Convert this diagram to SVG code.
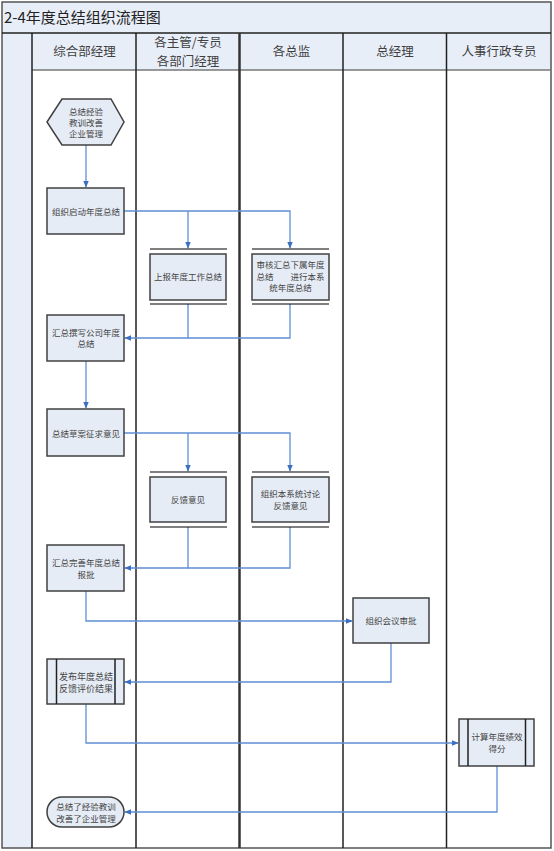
<svg xmlns="http://www.w3.org/2000/svg" width="554" height="851" viewBox="0 0 554 851">
<style>
.bg{fill:#e8eef8}
.ln{stroke:#202020;stroke-width:1.5;fill:none}
.hd{font-family:"Noto Sans CJK SC","Liberation Sans",sans-serif;font-size:12.5px;font-weight:400;fill:#404040;text-anchor:middle}
.nd{fill:#e6ecf6;stroke:#404040;stroke-width:1.5}
.tx{font-family:"Noto Sans CJK SC","Liberation Sans",sans-serif;font-size:8.5px;fill:#444;text-anchor:middle;dominant-baseline:central}
.bar{stroke:#000;stroke-width:1.2}
.cn{stroke:#5f8fd4;stroke-width:1.3;fill:none}
</style>
<defs>
<marker id="ah" viewBox="0 0 10 10" refX="9" refY="5" markerWidth="7" markerHeight="7" markerUnits="userSpaceOnUse" orient="auto">
<path d="M0,1 L10,5 L0,9 z" fill="#3d6fc0"/>
</marker>
</defs>
<g id="frame">
<rect x="2" y="2" width="549" height="846" fill="#fff"/>
<rect class="bg" x="2" y="2" width="549" height="31"/>
<rect class="bg" x="2" y="33" width="549" height="37"/>
<rect class="bg" x="2" y="33" width="30" height="815"/>
<text x="4" y="23" font-family="Noto Sans CJK SC,Liberation Sans,sans-serif" font-size="15" fill="#222">2-4年度总结组织流程图</text>
<rect x="2" y="2" width="549" height="846" fill="none" stroke="#555" stroke-width="1.5"/>
<line class="ln" x1="2" y1="33" x2="551" y2="33"/>
<line x1="32" y1="70" x2="551" y2="70" stroke="#777" stroke-width="1.5"/>
<line class="ln" x1="32" y1="33" x2="32" y2="848"/>
<line class="ln" x1="136" y1="33" x2="136" y2="848"/>
<line x1="239.5" y1="33" x2="239.5" y2="848" stroke="#333" stroke-width="2.5"/>
<line class="ln" x1="343" y1="33" x2="343" y2="848"/>
<line class="ln" x1="446.5" y1="33" x2="446.5" y2="848"/>
<text class="hd" x="84.5" y="56">综合部经理</text>
<text class="hd" x="188" y="47">各主管/专员</text>
<text class="hd" x="188" y="66">各部门经理</text>
<text class="hd" x="291.5" y="56">各总监</text>
<text class="hd" x="395" y="56">总经理</text>
<text class="hd" x="499" y="56">人事行政专员</text>
</g>
<g id="connectors">
<path class="cn" d="M86,145 V187" marker-end="url(#ah)"/>
<path class="cn" d="M124,211 H290 V248" marker-end="url(#ah)"/>
<path class="cn" d="M188,211 V248" marker-end="url(#ah)"/>
<path class="cn" d="M188,304 V338 H125" marker-end="url(#ah)"/>
<path class="cn" d="M290,304 V338 H188"/>
<path class="cn" d="M86,361 V408" marker-end="url(#ah)"/>
<path class="cn" d="M124,433 H290 V471" marker-end="url(#ah)"/>
<path class="cn" d="M188,433 V471" marker-end="url(#ah)"/>
<path class="cn" d="M188,527 V568 H125" marker-end="url(#ah)"/>
<path class="cn" d="M290,527 V568 H188"/>
<path class="cn" d="M86,591 V621 H352" marker-end="url(#ah)"/>
<path class="cn" d="M391,643 V682 H125" marker-end="url(#ah)"/>
<path class="cn" d="M86,704 V743 H458" marker-end="url(#ah)"/>
<path class="cn" d="M497,766 V812 H125" marker-end="url(#ah)"/>
</g>
<g id="n1">
<polygon class="nd" points="47,122 62,99 111,99 124,122 111,145 62,145"/>
<text class="tx" x="86" y="111">总结经验</text>
<text class="tx" x="86" y="122">教训改善</text>
<text class="tx" x="86" y="133">企业管理</text>
</g>
<g id="n2">
<rect class="nd" x="47" y="188" width="77" height="46"/>
<text class="tx" x="86" y="211">组织启动年度总结</text>
</g>
<g id="n3">
<line class="bar" x1="150" y1="249" x2="227" y2="249"/>
<line class="bar" x1="150" y1="304" x2="227" y2="304"/>
<rect class="nd" x="150" y="254" width="76" height="46"/>
<text class="tx" x="188" y="276">上报年度工作总结</text>
</g>
<g id="n4">
<line class="bar" x1="252" y1="249" x2="329" y2="249"/>
<line class="bar" x1="252" y1="304" x2="329" y2="304"/>
<rect class="nd" x="252" y="254" width="77" height="46"/>
<text class="tx" x="290.5" y="264">审核汇总下属年度</text>
<text class="tx" x="290.5" y="276" xml:space="preserve">总结　　进行本系</text>
<text class="tx" x="290.5" y="287">统年度总结</text>
</g>
<g id="n5">
<rect class="nd" x="47" y="315" width="77" height="46"/>
<text class="tx" x="86" y="332">汇总撰写公司年度</text>
<text class="tx" x="86" y="343">总结</text>
</g>
<g id="n6">
<rect class="nd" x="47" y="409" width="77" height="47"/>
<text class="tx" x="86" y="433">总结草案征求意见</text>
</g>
<g id="n7">
<line class="bar" x1="150" y1="472" x2="227" y2="472"/>
<line class="bar" x1="150" y1="527" x2="227" y2="527"/>
<rect class="nd" x="150" y="477" width="76" height="45"/>
<text class="tx" x="188" y="499">反馈意见</text>
</g>
<g id="n8">
<line class="bar" x1="252" y1="472" x2="329" y2="472"/>
<line class="bar" x1="252" y1="527" x2="329" y2="527"/>
<rect class="nd" x="252" y="477" width="77" height="45"/>
<text class="tx" x="290.5" y="493">组织本系统讨论</text>
<text class="tx" x="290.5" y="505">反馈意见</text>
</g>
<g id="n9">
<rect class="nd" x="47" y="545" width="77" height="46"/>
<text class="tx" x="86" y="562">汇总完善年度总结</text>
<text class="tx" x="86" y="574">报批</text>
</g>
<g id="n10">
<rect class="nd" x="353" y="598" width="76" height="45"/>
<text class="tx" x="391" y="620">组织会议审批</text>
</g>
<g id="n11">
<rect class="nd" x="47" y="659" width="77" height="45"/>
<line class="ln" x1="56.5" y1="659" x2="56.5" y2="704"/>
<line class="ln" x1="115" y1="659" x2="115" y2="704"/>
<text class="tx" x="86" y="676" style="font-size:9px">发布年度总结</text>
<text class="tx" x="86" y="688" style="font-size:9px">反馈评价结果</text>
</g>
<g id="n12">
<rect class="nd" x="459" y="719" width="75" height="47"/>
<line class="ln" x1="468" y1="719" x2="468" y2="766"/>
<line class="ln" x1="525.5" y1="719" x2="525.5" y2="766"/>
<text class="tx" x="497" y="736">计算年度绩效</text>
<text class="tx" x="497" y="748">得分</text>
</g>
<g id="n13">
<rect class="nd" x="47" y="797" width="77" height="30" rx="15" ry="15"/>
<text class="tx" x="86" y="805.5">总结了经验教训</text>
<text class="tx" x="86" y="818">改善了企业管理</text>
</g>
</svg>
